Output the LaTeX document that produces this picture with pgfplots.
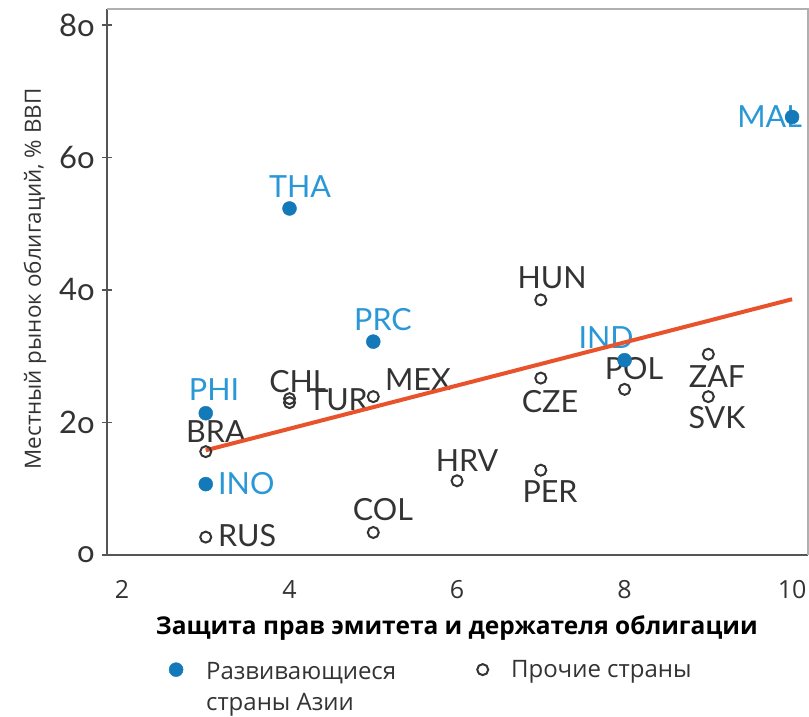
\documentclass[border=0pt]{standalone}
\usepackage{fontspec}
\setmainfont{Open Sans}
\newfontfamily\latof{Lato}
\usepackage{pgfplots}
\pgfplotsset{compat=1.18}
\usepackage{pgfplotstable}
\definecolor{dotblue}{HTML}{1479B8}
\definecolor{lblblue}{HTML}{2A98D6}
\definecolor{txtgray}{HTML}{333333}
\definecolor{trend}{HTML}{E8532B}
\definecolor{axgray}{HTML}{555555}
\definecolor{boxgray}{HTML}{B0B0B0}

\pgfplotstableread{
x y
4 52.3
5 32.2
3 21.4
3 10.7
8 29.4
10 66.1
}\asia
\pgfplotstableread{
x y
3 15.6
3 2.7
4 23.6
4 23.0
5 23.9
5 3.4
6 11.2
7 38.5
7 26.7
7 12.8
8 25.0
9 30.3
9 23.9
}\other

\tikzset{lbl/.style={font=\latof\fontsize{30.5}{30.5}\selectfont, inner sep=0pt, text=txtgray},
         blbl/.style={lbl, text=lblblue}}

\begin{document}
\begin{tikzpicture}
\begin{axis}[
  scale only axis, width=701pt, height=546pt,
  xmin=1.821, xmax=10.19, ymin=0, ymax=82.4,
  xtick={2,4,6,8,10}, ytick={0,20,40,60,80},
  yticklabels={o,2o,4o,6o,8o},
  axis line style={draw=none},
  xtick style={draw=none},
  ytick style={axgray, line width=1.2pt},
  tick align=center, major tick length=10pt,
  ytick pos=left, xtick pos=bottom,
  /pgf/number format/assume math mode=true,
  yticklabel style={font=\latof\fontsize{31}{31}\selectfont, text=txtgray, anchor=east, inner sep=0pt, xshift=-7pt},
  xticklabel style={font=\fontsize{25}{25}\selectfont, text=txtgray, anchor=base, inner sep=0pt, yshift=-38.5pt},
  xlabel={Защита прав эмитета и держателя облигации},
  xlabel style={font=\fontsize{24.5}{24.5}\selectfont\bfseries, text=black, at={(axis description cs:0.499,-0.1337)}, anchor=center, inner sep=0pt},
  ylabel={Местный рынок облигаций, \% ВВП},
  ylabel style={font=\fontsize{22.4}{22.4}\selectfont, text=txtgray, at={(axis description cs:-0.1027,0.5055)}, anchor=center, inner sep=0pt},
  clip=false,
  set layers,
  legend columns=2,
  legend cell align=left,
  legend style={at={(axis description cs:0.084,-0.181)}, anchor=north west, draw=none, fill=none,
    font=\fontsize{24}{31}\selectfont, text=txtgray,
    /tikz/every odd column/.append style={column sep=21pt},
    /tikz/every even column/.append style={column sep=79pt}},
]
\begin{pgfonlayer}{axis background}
\node[blbl] at (axis cs:4.125,55.55) {THA};
\node[blbl] at (axis cs:5.116,35.47) {PRC};
\node[blbl] at (axis cs:3.099,24.9) {PHI};
\node[blbl, anchor=west] at (axis cs:3.146,10.72) {INO};
\node[blbl] at (axis cs:7.779,32.75) {IND};
\node[blbl, anchor=east] at (axis cs:10.12,66.1) {MAL};
\node[lbl] at (axis cs:3.122,18.57) {BRA};
\node[lbl, anchor=west] at (axis cs:3.146,2.87) {RUS};
\node[lbl] at (axis cs:4.113,26.1) {CHL};
\node[lbl, anchor=west] at (axis cs:4.221,23.4) {TUR};
\node[lbl] at (axis cs:5.534,26.4) {MEX};
\node[lbl] at (axis cs:5.116,6.79) {COL};
\node[lbl] at (axis cs:6.119,14.19) {HRV};
\node[lbl] at (axis cs:7.134,41.8) {HUN};
\node[lbl] at (axis cs:8.113,28.2) {POL};
\node[lbl] at (axis cs:9.104,26.9) {ZAF};
\node[lbl] at (axis cs:9.104,20.7) {SVK};
\node[lbl] at (axis cs:7.11,23.1) {CZE};
\node[lbl] at (axis cs:7.11,9.5) {PER};
\end{pgfonlayer}

\addplot[trend, line width=4pt, forget plot] coordinates {(3,15.8) (10,38.6)};
\addplot[only marks, mark=*, mark size=7pt, mark options={fill=dotblue, draw=dotblue}] table[x=x,y=y] {\asia};
\addlegendentry{\begin{tabular}[t]{@{}l@{}}Развивающиеся\\страны Азии\end{tabular}}
\addplot[only marks, mark=o, mark size=5.5pt, mark options={draw=txtgray, line width=2pt, fill=none}] table[x=x,y=y] {\other};
\addlegendentry{Прочие страны}

\draw[axgray, line width=1.5pt] (rel axis cs:0,1) -- (rel axis cs:0,0) -- (rel axis cs:1,0);
\draw[boxgray, line width=1.5pt] (rel axis cs:0,1) -- (rel axis cs:1,1) -- (rel axis cs:1,0);
\end{axis}
\pgfresetboundingbox
\path (-107pt,-161pt) rectangle (702pt,555pt);
\end{tikzpicture}
\end{document}
